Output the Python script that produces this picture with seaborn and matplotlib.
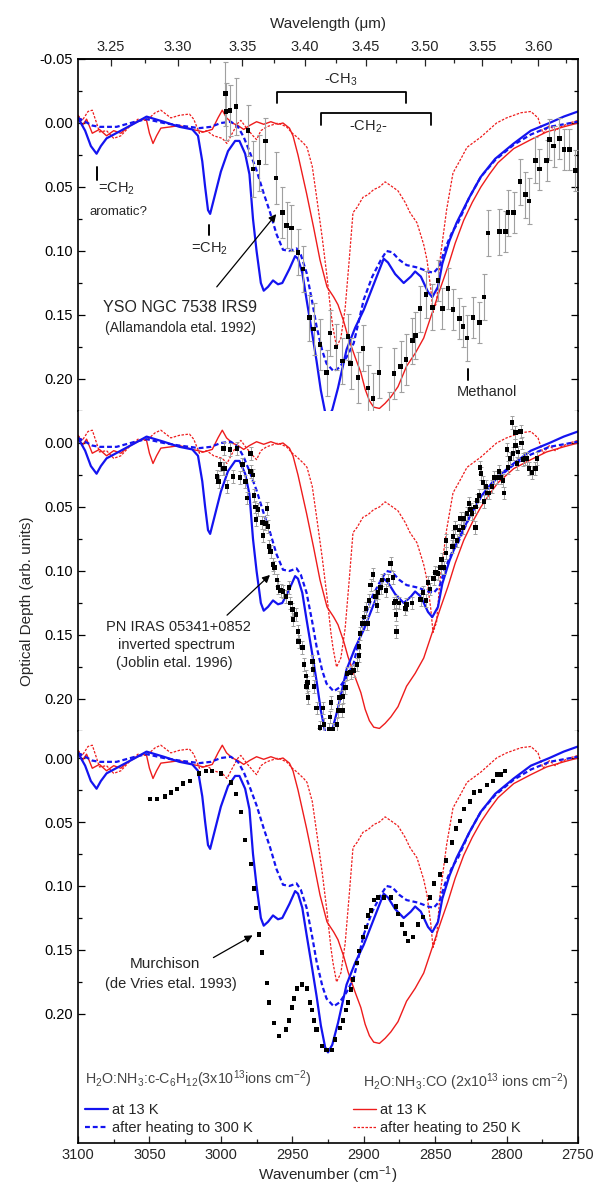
import numpy as np
import matplotlib
matplotlib.use('Agg')
from matplotlib import pyplot as plt
from matplotlib.ticker import MultipleLocator, FixedLocator, FormatStrFormatter
import seaborn as sns

# Лабораторные спектры (волновое число, оптическая толщина)
c6_13k_wn = [3100, 3095, 3091, 3087, 3084, 3080, 3070, 3060, 3052, 3040, 3029, 3020, 3016, 3013, 3011,
             3009, 3007.5, 3005, 3000, 2995, 2990, 2987, 2983, 2980, 2977.5, 2975, 2972, 2970, 2967,
             2963.5, 2960, 2957, 2952, 2948, 2946, 2943, 2940, 2936, 2933, 2930, 2927, 2925, 2922, 2918,
             2912, 2906, 2900, 2893, 2886, 2883, 2878, 2872, 2867, 2864, 2860, 2855, 2852, 2848, 2845,
             2840, 2835, 2826, 2818, 2808, 2795, 2783, 2770, 2760, 2750]
c6_13k_tau = [-0.004, 0.006, 0.018, 0.024, 0.018, 0.012, 0.006, 0.000, -0.005, -0.001, 0.003, 0.005, 0.010,
              0.030, 0.050, 0.068, 0.071, 0.060, 0.038, 0.022, 0.014, 0.014, 0.024, 0.040, 0.075, 0.100,
              0.125, 0.131, 0.128, 0.123, 0.126, 0.125, 0.114, 0.104, 0.106, 0.117, 0.138, 0.165, 0.186,
              0.209, 0.226, 0.230, 0.224, 0.207, 0.177, 0.160, 0.146, 0.126, 0.106, 0.109, 0.118, 0.125,
              0.120, 0.116, 0.120, 0.132, 0.136, 0.128, 0.110, 0.092, 0.078, 0.058, 0.042, 0.028, 0.016,
              0.006, 0.000, -0.005, -0.009]

c6_300k_wn = [3100, 3090, 3085, 3073, 3060, 3052, 3040, 3029, 3015, 3007, 3000, 2993, 2988, 2984, 2980,
              2975, 2970, 2965.5, 2961, 2956.5, 2952, 2947, 2944, 2940, 2936, 2933, 2929, 2926, 2921, 2917,
              2912, 2907, 2900, 2894, 2888, 2884, 2880, 2875, 2870, 2862, 2855, 2851, 2847, 2843, 2838,
              2834, 2826, 2818, 2808, 2795, 2783, 2770, 2750]
c6_300k_tau = [-0.004, 0.002, 0.003, 0.003, -0.001, -0.003, 0.000, 0.002, 0.004, 0.003, 0.000, -0.001,
               0.003, 0.011, 0.022, 0.037, 0.055, 0.070, 0.087, 0.099, 0.100, 0.098, 0.103, 0.117, 0.140,
               0.159, 0.178, 0.188, 0.194, 0.191, 0.183, 0.172, 0.138, 0.120, 0.107, 0.100, 0.101, 0.107,
               0.111, 0.113, 0.116, 0.117, 0.112, 0.098, 0.085, 0.078, 0.058, 0.042, 0.029, 0.017, 0.009,
               0.003, -0.001]

co_13k_wn = [3100, 3097, 3094, 3090, 3085, 3080, 3075, 3070, 3065, 3060, 3055, 3052, 3050, 3047.5, 3045,
             3042, 3035, 3029, 3020, 3012, 3006, 3002, 2999, 2996, 2992, 2988, 2984, 2980, 2975, 2970,
             2965, 2960, 2956.5, 2952, 2949.5, 2946, 2943, 2940, 2935, 2930.6, 2925.7, 2921, 2918, 2914,
             2911, 2906, 2902, 2899, 2896, 2893, 2889, 2885, 2881, 2876, 2870, 2864, 2858, 2852, 2846,
             2841, 2836, 2830, 2824, 2818, 2812, 2806, 2795, 2783, 2772, 2760, 2750]
co_13k_tau = [-0.006, 0.002, -0.003, 0.008, 0.005, 0.010, 0.006, 0.008, 0.003, 0.000, -0.003, -0.002,
              0.008, 0.016, 0.010, 0.004, 0.003, 0.002, 0.005, 0.007, 0.005, -0.004, -0.010, -0.004,
              0.000, 0.002, 0.005, 0.002, -0.001, 0.001, -0.001, 0.001, 0.000, 0.004, 0.010, 0.025,
              0.040, 0.055, 0.082, 0.107, 0.128, 0.136, 0.142, 0.155, 0.167, 0.183, 0.195, 0.208, 0.217,
              0.222, 0.223, 0.219, 0.214, 0.206, 0.190, 0.180, 0.168, 0.148, 0.128, 0.112, 0.094, 0.076,
              0.062, 0.050, 0.040, 0.031, 0.020, 0.013, 0.007, 0.003, 0.000]

co_250k_wn = [3100, 3097, 3093, 3090, 3087, 3085, 3080, 3075, 3070, 3065, 3058, 3052, 3046, 3042, 3035,
              3029, 3022, 3019, 3015, 3010, 3005, 2999, 2995.7, 2992, 2988, 2986, 2982, 2977.5, 2975,
              2972, 2968, 2960, 2954, 2950, 2946.7, 2942, 2939.7, 2936, 2932.7, 2929, 2925.7, 2923,
              2921.5, 2919, 2916, 2913, 2910, 2907.5, 2904.7, 2900.5, 2897, 2893, 2889, 2885, 2881, 2876,
              2871, 2867.6, 2862.7, 2858, 2855.7, 2853, 2851.5, 2849, 2846.6, 2842, 2837.5, 2832, 2827.7,
              2818, 2807, 2800, 2790, 2783, 2778, 2774.5, 2770, 2766, 2762, 2756, 2750]
co_250k_tau = [-0.006, -0.002, -0.009, -0.010, 0.000, 0.007, 0.006, 0.012, 0.010, 0.004, -0.003, -0.002,
               -0.008, -0.010, -0.004, -0.006, -0.007, -0.003, 0.008, 0.006, 0.010, 0.012, 0.016, 0.008,
               0.000, -0.002, 0.004, 0.010, 0.013, 0.006, 0.003, 0.000, 0.003, 0.008, 0.011, 0.016, 0.019,
               0.034, 0.060, 0.090, 0.120, 0.148, 0.160, 0.175, 0.168, 0.145, 0.105, 0.070, 0.066, 0.058,
               0.056, 0.052, 0.050, 0.046, 0.049, 0.053, 0.062, 0.070, 0.078, 0.095, 0.107, 0.130, 0.148,
               0.140, 0.107, 0.068, 0.039, 0.028, 0.019, 0.011, 0.000, -0.004, -0.008, -0.009, -0.004,
               0.008, 0.002, 0.006, 0.003, 0.000, -0.002]

# YSO NGC 7538 IRS9 (Allamandola et al. 1992)
yso_wn = [2997, 2996.4, 2993.6, 2989.4, 2981, 2977.5, 2973.3, 2969, 2961.4, 2957, 2954, 2950.7, 2946,
          2942.5, 2938, 2935, 2930.6, 2926, 2923.6, 2919.4, 2915, 2911, 2909, 2904, 2900.5, 2897, 2893.5,
          2889.3, 2882, 2878.8, 2874, 2870.4, 2866, 2864, 2860.6, 2856.4, 2852, 2848, 2845, 2841, 2837.5,
          2833, 2830.5, 2827.7, 2823.5, 2819, 2815.8, 2813, 2805, 2801, 2799, 2795, 2790.6, 2787, 2784.3,
          2780, 2777, 2772, 2770, 2767, 2763, 2759.8, 2756, 2752]
yso_tau = [-0.023, -0.009, -0.010, -0.013, 0.006, 0.036, 0.031, 0.014, 0.043, 0.070, 0.080, 0.082, 0.101,
           0.114, 0.152, 0.161, 0.173, 0.195, 0.164, 0.175, 0.186, 0.167, 0.188, 0.199, 0.176, 0.207,
           0.215, 0.195, 0.230, 0.196, 0.190, 0.185, 0.170, 0.166, 0.145, 0.134, 0.144, 0.123, 0.145,
           0.129, 0.146, 0.153, 0.159, 0.168, 0.152, 0.156, 0.136, 0.086, 0.085, 0.085, 0.070, 0.070,
           0.046, 0.056, 0.061, 0.029, 0.036, 0.029, 0.013, 0.018, 0.012, 0.021, 0.021, 0.037]
yso_err = [0.025, 0.022, 0.020, 0.022, 0.020, 0.022, 0.022, 0.018, 0.020, 0.020, 0.018, 0.018, 0.018,
           0.018, 0.018, 0.020, 0.020, 0.018, 0.018, 0.018, 0.018, 0.018, 0.020, 0.020, 0.018, 0.018,
           0.020, 0.020, 0.020, 0.020, 0.020, 0.020, 0.018, 0.018, 0.018, 0.018, 0.018, 0.016, 0.016,
           0.016, 0.016, 0.016, 0.016, 0.018, 0.016, 0.016, 0.018, 0.018, 0.018, 0.016, 0.018, 0.016,
           0.018, 0.018, 0.018, 0.018, 0.016, 0.016, 0.016, 0.016, 0.016, 0.016, 0.016, 0.016]

# PN IRAS 05341+0852 (Joblin et al. 1996)
pn_wn = [3002.7, 3001.5, 3000.6, 2998.5, 2998, 2997.5, 2995.7, 2993.6, 2991.5, 2988.7, 2986.6, 2985, 2983,
         2981.7, 2979, 2979, 2977.5, 2976.8, 2976, 2975.4, 2974, 2971, 2970.5, 2969, 2967.7, 2967, 2966.3,
         2965, 2963.5, 2962.5, 2960.7, 2960, 2958, 2956.5, 2954.4, 2952.3, 2951.5, 2950, 2949.5, 2947.4,
         2946, 2945.5, 2943, 2941.8, 2940.4, 2939.5, 2939.8, 2939, 2936, 2935.5, 2934.8, 2933, 2931.3,
         2930.6, 2928.5, 2927.8, 2926, 2924, 2923.6, 2922.9, 2921.5, 2920, 2918.7, 2918, 2917, 2915,
         2914.5, 2913, 2911.7, 2909, 2907, 2904.7, 2903.3, 2903.3, 2902.6, 2901, 2899.8, 2898.4, 2897.5,
         2896.3, 2895, 2893.5, 2892, 2890.7, 2890, 2888, 2887.2, 2884.4, 2883, 2881, 2879.5, 2878.8,
         2877.5, 2877.4, 2877.2, 2875.3, 2871, 2870.3, 2866.2, 2860, 2858.5, 2856.4, 2855, 2853.6, 2851,
         2850, 2848, 2846, 2845.3, 2844, 2842.4, 2842.4, 2838, 2837.5, 2836, 2834.7, 2833.3, 2832,
         2830.5, 2829.8, 2827.7, 2826.3, 2825, 2824.2, 2822, 2822, 2820.7, 2819.3, 2818.6, 2817.9,
         2816.5, 2815.8, 2814.4, 2813.7, 2812.3, 2810.2, 2808.8, 2806.7, 2805.3, 2803.9, 2802.5, 2801.8,
         2799.7, 2799, 2797.6, 2796.2, 2795.5, 2794, 2794, 2792.7, 2792, 2790, 2789.3, 2788.5, 2787,
         2785.7, 2784.3, 2782.2, 2780, 2778.7]
pn_tau = [0.026, 0.030, 0.017, 0.020, 0.004, 0.020, 0.034, 0.005, 0.026, 0.004, 0.027, 0.017, 0.030,
          0.043, 0.008, 0.022, 0.025, 0.041, 0.050, 0.060, 0.052, 0.062, 0.072, 0.063, 0.051, 0.065,
          0.081, 0.085, 0.095, 0.097, 0.107, 0.113, 0.115, 0.116, 0.120, 0.113, 0.125, 0.130, 0.138,
          0.134, 0.147, 0.155, 0.160, 0.173, 0.182, 0.187, 0.190, 0.199, 0.171, 0.177, 0.190, 0.207,
          0.228, 0.222, 0.207, 0.220, 0.231, 0.224, 0.214, 0.203, 0.224, 0.232, 0.220, 0.209, 0.199,
          0.209, 0.198, 0.191, 0.180, 0.179, 0.178, 0.173, 0.166, 0.159, 0.149, 0.141, 0.136, 0.129,
          0.141, 0.123, 0.111, 0.103, 0.120, 0.127, 0.117, 0.113, 0.107, 0.115, 0.107, 0.094, 0.105,
          0.125, 0.124, 0.134, 0.147, 0.125, 0.129, 0.126, 0.125, 0.122, 0.117, 0.123, 0.109, 0.114,
          0.106, 0.101, 0.102, 0.097, 0.091, 0.097, 0.086, 0.076, 0.081, 0.073, 0.066, 0.076, 0.068,
          0.059, 0.066, 0.059, 0.055, 0.047, 0.052, 0.055, 0.066, 0.050, 0.045, 0.041, 0.019, 0.024,
          0.031, 0.046, 0.034, 0.039, 0.039, 0.034, 0.027, 0.027, 0.022, 0.027, 0.029, 0.039, 0.005,
          0.019, 0.012, -0.016, 0.008, -0.008, 0.002, 0.016, 0.007, -0.009, 0.000, 0.013, 0.012, 0.012,
          0.020, 0.023, 0.020, 0.012]
pn_err = 0.005

# Murchison (de Vries et al. 1993)
mur_wn = [3049.6, 3044.7, 3039, 3035, 3030.7, 3026.5, 3021.6, 3015.3, 3010.4, 3006.2, 3000, 2993, 2989.4,
          2986, 2983, 2979, 2976.8, 2975.4, 2973.3, 2971, 2967.7, 2966.3, 2962.8, 2959.3, 2954.4, 2952.3,
          2950, 2948.8, 2946.7, 2943, 2939.7, 2937.6, 2936, 2934.8, 2933, 2929.4, 2926, 2922, 2920,
          2916.6, 2914.5, 2912.4, 2911, 2908.9, 2907.5, 2904.7, 2903.3, 2900.5, 2898.4, 2897, 2895,
          2892.8, 2890, 2886, 2881, 2877.4, 2876, 2873.2, 2871, 2869, 2865.5, 2862, 2858.5, 2853.6,
          2850.8, 2846.6, 2842.4, 2838, 2835.4, 2832.6, 2829.8, 2825.6, 2822.8, 2818.6, 2813.7, 2809.5,
          2806.7, 2803.9, 2801]
mur_tau = [0.032, 0.032, 0.030, 0.027, 0.024, 0.020, 0.018, 0.012, 0.010, 0.010, 0.012, 0.019, 0.028,
           0.042, 0.064, 0.083, 0.102, 0.117, 0.138, 0.152, 0.176, 0.191, 0.207, 0.217, 0.212, 0.205,
           0.195, 0.188, 0.180, 0.177, 0.180, 0.191, 0.197, 0.205, 0.212, 0.225, 0.228, 0.228, 0.220,
           0.211, 0.205, 0.197, 0.191, 0.181, 0.173, 0.160, 0.151, 0.140, 0.132, 0.123, 0.119, 0.111,
           0.109, 0.109, 0.109, 0.116, 0.122, 0.130, 0.137, 0.143, 0.140, 0.130, 0.124, 0.109, 0.098,
           0.091, 0.080, 0.066, 0.055, 0.049, 0.040, 0.034, 0.027, 0.026, 0.021, 0.018, 0.013, 0.013,
           0.010]

# Метки верхней оси (мкм)
um_major = [3.25, 3.30, 3.35, 3.40, 3.45, 3.50, 3.55, 3.60]
um_minor = [3.275, 3.325, 3.375, 3.425, 3.475, 3.525, 3.575, 3.625]

BLUE = '#1414f0'
RED = '#ee1c1c'
DASH = (0, (2.2, 1.3))
RED_DASH = (0, (2.0, 1.2))

sns.set_theme(style='ticks')
plt.rcParams['font.family'] = ['Liberation Sans', 'DejaVu Sans']
plt.rcParams['mathtext.fontset'] = 'custom'
plt.rcParams['mathtext.rm'] = 'Liberation Sans'
plt.rcParams['mathtext.default'] = 'regular'
plt.rcParams['axes.unicode_minus'] = False

fig = plt.figure(figsize=(5.97, 11.84), dpi=100)
L, W = 78 / 597, 500 / 597
ax1 = fig.add_axes([L, 1 - 411 / 1184, W, 352 / 1184])
ax2 = fig.add_axes([L, 1 - 731 / 1184, W, 320 / 1184])
ax3 = fig.add_axes([L, 1 - 1143 / 1184, W, 412 / 1184])
axes = [ax1, ax2, ax3]


def lab_curves(ax):
    sns.lineplot(x=co_13k_wn, y=co_13k_tau, ax=ax, color=RED, lw=1.0, sort=False, estimator=None)
    sns.lineplot(x=co_250k_wn, y=co_250k_tau, ax=ax, color=RED, lw=0.9, linestyle=RED_DASH,
                 sort=False, estimator=None)
    sns.lineplot(x=c6_13k_wn, y=c6_13k_tau, ax=ax, color=BLUE, lw=1.6, sort=False, estimator=None)
    sns.lineplot(x=c6_300k_wn, y=c6_300k_tau, ax=ax, color=BLUE, lw=1.6, linestyle=DASH,
                 sort=False, estimator=None)


for ax in axes:
    lab_curves(ax)

# Наблюдения
ax1.errorbar(yso_wn, yso_tau, yerr=yso_err, fmt='none', ecolor='#a0a0a0', elinewidth=0.8,
             capsize=1.8, capthick=0.8, zorder=3)
sns.scatterplot(x=yso_wn, y=yso_tau, ax=ax1, marker='s', color='black', s=12, edgecolor='none', zorder=4)

ax2.errorbar(pn_wn, pn_tau, yerr=pn_err, fmt='none', ecolor='#a0a0a0', elinewidth=0.7,
             capsize=1.5, capthick=0.7, zorder=3)
sns.scatterplot(x=pn_wn, y=pn_tau, ax=ax2, marker='s', color='black', s=12, edgecolor='none', zorder=4)

sns.scatterplot(x=mur_wn, y=mur_tau, ax=ax3, marker='s', color='black', s=10, edgecolor='none', zorder=4)

# Оси
limits = [(-0.05, 0.225), (-0.025, 0.225), (-0.0211, 0.3008)]
majors = [np.arange(-0.05, 0.201, 0.05), np.arange(0, 0.201, 0.05), np.arange(0, 0.201, 0.05)]
minors = [np.arange(-0.025, 0.226, 0.05), np.arange(0.025, 0.226, 0.05), np.arange(0.025, 0.176, 0.05)]
for ax, (lo, hi), mj, mn in zip(axes, limits, majors, minors):
    ax.set_xlim(3100, 2750)
    ax.set_ylim(hi, lo)
    ax.yaxis.set_major_locator(FixedLocator(mj))
    ax.yaxis.set_minor_locator(FixedLocator(mn))
    ax.yaxis.set_major_formatter(FormatStrFormatter('%.2f'))
    ax.tick_params(axis='y', which='both', direction='in', left=True, right=True, width=0.9,
                   labelsize=10.5, colors='black')
    ax.tick_params(axis='y', which='major', length=5)
    ax.tick_params(axis='y', which='minor', length=2.6)
    for s in ax.spines.values():
        s.set_linewidth(1.2)
        s.set_color('black')
    ax.set_ylabel('')

for ax in (ax1, ax2):
    ax.tick_params(axis='x', which='both', bottom=False, top=False, labelbottom=False)
ax1.spines['bottom'].set_visible(False)
ax2.spines['top'].set_visible(False)
ax2.spines['bottom'].set_visible(False)
ax3.spines['top'].set_visible(False)

ax3.xaxis.set_major_locator(MultipleLocator(50))
ax3.xaxis.set_minor_locator(MultipleLocator(25))
ax3.tick_params(axis='x', which='both', direction='in', bottom=True, top=False, width=0.9, labelsize=10.5)
ax3.tick_params(axis='x', which='major', length=5)
ax3.tick_params(axis='x', which='minor', length=2.6)
ax3.set_xlabel('Wavenumber (cm$^{-1}$)', fontsize=11, labelpad=2)


def wn_to_um(x):
    with np.errstate(divide='ignore'):
        return 1e4 / np.asarray(x, dtype=float)


sec = ax1.secondary_xaxis('top', functions=(wn_to_um, wn_to_um))
sec.xaxis.set_major_locator(FixedLocator(um_major))
sec.xaxis.set_minor_locator(FixedLocator(um_minor))
sec.xaxis.set_major_formatter(FormatStrFormatter('%.2f'))
sec.tick_params(axis='x', which='both', direction='in', width=0.9, labelsize=10.5)
sec.tick_params(axis='x', which='major', length=5)
sec.tick_params(axis='x', which='minor', length=2.6)
sec.spines['top'].set_linewidth(1.2)
sec.set_xlabel('Wavelength (\u03bcm)', fontsize=11, labelpad=9)

fig.text(27 / 597, 0.492, 'Optical Depth (arb. units)', rotation=90, ha='center', va='center', fontsize=11)

# Подписи в верхней панели
ax1.plot([2960.7, 2960.7, 2870.4, 2870.4], [-0.0156, -0.0242, -0.0242, -0.0156], color='black', lw=1.3)
ax1.text(2916, -0.0336, '-CH$_3$', ha='center', va='center', fontsize=10.5)
ax1.plot([2929.9, 2929.9, 2852.9, 2852.9], [0.0016, -0.0078, -0.0078, 0.0016], color='black', lw=1.3)
ax1.text(2897, 0.003, '-CH$_2$-', ha='center', va='center', fontsize=10.5)
ax1.plot([3086.7, 3086.7], [0.0344, 0.0445], color='black', lw=1.4)
ax1.text(3073.4, 0.0515, '=CH$_2$', ha='center', va='center', fontsize=10.5)
ax1.text(3071.3, 0.0695, 'aromatic?', ha='center', va='center', fontsize=9.5)
ax1.plot([3008.3, 3008.3], [0.0797, 0.0875], color='black', lw=1.4)
ax1.text(3008.3, 0.0985, '=CH$_2$', ha='center', va='center', fontsize=10.5)
ax1.text(3028.6, 0.1438, 'YSO NGC 7538 IRS9', ha='center', va='center', fontsize=11.5)
ax1.text(3028.6, 0.160, '(Allamandola etal. 1992)', ha='center', va='center', fontsize=10)
ax1.annotate('', xy=(2960, 0.0695), xytext=(3004.1, 0.1297),
             arrowprops=dict(arrowstyle='-|>', color='black', lw=0.9, mutation_scale=11))
ax1.plot([2827, 2827], [0.192, 0.2008], color='black', lw=1.4)
ax1.text(2813.7, 0.2102, 'Methanol', ha='center', va='center', fontsize=10.5)

# Средняя панель
ax2.text(3030, 0.1438, 'PN IRAS 05341+0852', ha='center', va='center', fontsize=10.5)
ax2.text(3031.4, 0.1578, 'inverted spectrum', ha='center', va='center', fontsize=10.5)
ax2.text(3032.8, 0.1719, '(Joblin etal. 1996)', ha='center', va='center', fontsize=10.5)
ax2.annotate('', xy=(2964.2, 0.1016), xytext=(2997.1, 0.136),
             arrowprops=dict(arrowstyle='-|>', color='black', lw=0.9, mutation_scale=11))

# Нижняя панель
ax3.text(3039.1, 0.161, 'Murchison', ha='center', va='center', fontsize=11)
ax3.text(3034.9, 0.1766, '(de Vries etal. 1993)', ha='center', va='center', fontsize=10.5)
ax3.annotate('', xy=(2976.1, 0.1375), xytext=(3006.9, 0.157),
             arrowprops=dict(arrowstyle='-|>', color='black', lw=0.9, mutation_scale=11))

# Легенды
h = ax3.get_lines()
ax3.text(0.014, 0.155, 'H$_2$O:NH$_3$:c-C$_6$H$_{12}$(3x10$^{13}$ions cm$^{-2}$)', transform=ax3.transAxes,
         ha='left', va='center', fontsize=10.3, color='#454545')
ax3.text(0.57, 0.148, 'H$_2$O:NH$_3$:CO (2x10$^{13}$ ions cm$^{-2}$)', transform=ax3.transAxes,
         ha='left', va='center', fontsize=10.3, color='#454545')
leg1 = ax3.legend([h[2], h[3]], ['at 13 K', 'after heating to 300 K'], loc='upper left',
                  bbox_to_anchor=(0.014, 0.098), frameon=False, borderpad=0, borderaxespad=0,
                  handlelength=1.6, handletextpad=0.25, labelspacing=0.3, fontsize=10.5)
ax3.add_artist(leg1)
ax3.legend([h[0], h[1]], ['at 13 K', 'after heating to 250 K'], loc='upper left',
           bbox_to_anchor=(0.55, 0.098), frameon=False, borderpad=0, borderaxespad=0,
           handlelength=1.6, handletextpad=0.25, labelspacing=0.3, fontsize=10.5)

fig.savefig('out.png', dpi=100)
